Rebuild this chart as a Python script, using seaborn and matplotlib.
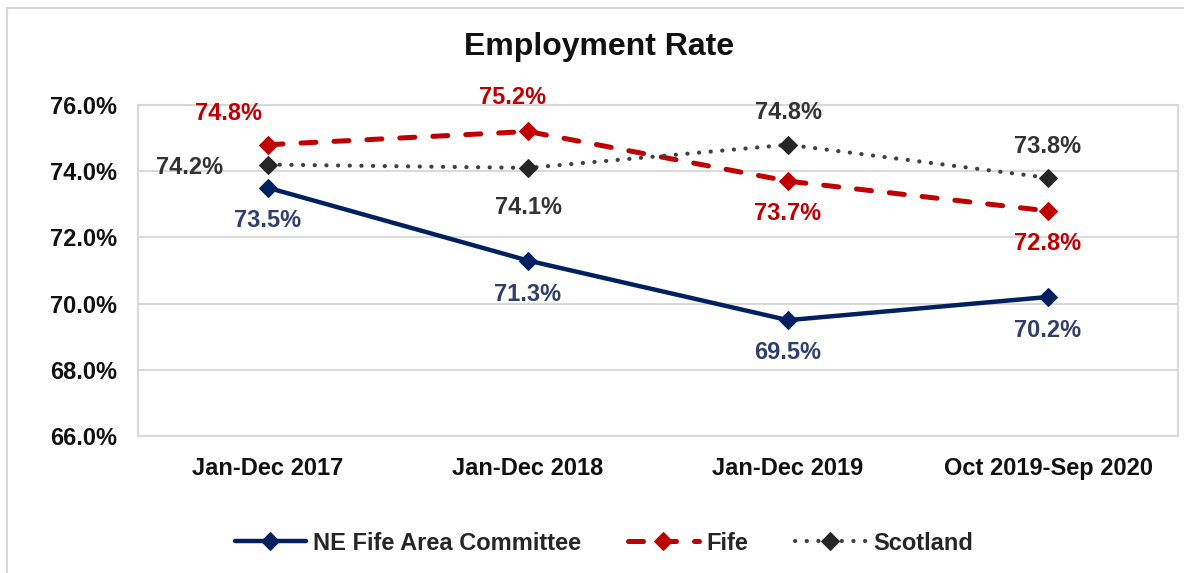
import matplotlib
matplotlib.use("Agg")
import matplotlib.pyplot as plt
import seaborn as sns
import pandas as pd
from matplotlib.patches import Rectangle

categories = ["Jan-Dec 2017", "Jan-Dec 2018", "Jan-Dec 2019", "Oct 2019-Sep 2020"]
ne_fife = [73.5, 71.3, 69.5, 70.2]
fife = [74.8, 75.2, 73.7, 72.8]
scotland = [74.2, 74.1, 74.8, 73.8]
y_ticks = [66, 68, 70, 72, 74, 76]

sns.set_theme(style="white")
plt.rcParams["font.family"] = ["Liberation Sans", "DejaVu Sans"]
plt.rcParams["font.weight"] = "bold"

W, H = 1184, 573
fig = plt.figure(figsize=(W / 100, H / 100), dpi=100)
ax = fig.add_axes([138 / W, 1 - 436 / H, (1178 - 138) / W, (436 - 105) / H])

df = pd.DataFrame({
    "period": categories * 3,
    "x": list(range(4)) * 3,
    "rate": ne_fife + fife + scotland,
    "series": ["NE Fife Area Committee"] * 4 + ["Fife"] * 4 + ["Scotland"] * 4,
})

navy = "#002060"
red = "#C00000"
grey = "#404040"
styles = {
    "NE Fife Area Committee": dict(color=navy, lw=3.2, mfc=navy, mec=navy, dash=None),
    "Fife": dict(color=red, lw=3.6, mfc=red, mec=red, dash=(3.0, 3.6)),
    "Scotland": dict(color=grey, lw=3.0, mfc="#262626", mec="#262626", dash=(0.05, 2.75)),
}

handles = []
for name in ["NE Fife Area Committee", "Fife", "Scotland"]:
    sub = df[df.series == name]
    st = styles[name]
    sns.lineplot(data=sub, x="x", y="rate", ax=ax, color=st["color"], lw=st["lw"],
                 marker="D", markersize=9, markerfacecolor=st["mfc"],
                 markeredgecolor=st["mec"], label=name, legend=False, sort=False)
    line = ax.lines[-1]
    if st["dash"] is not None:
        line.set_dashes(st["dash"])
    line.set_dash_capstyle("round")
    line.set_solid_capstyle("round")
    handles.append(line)

# data labels: offsets in pixels
label_offsets = {
    "NE Fife Area Committee": [(0, -33), (0, -34), (0, -32), (0, -34)],
    "Fife": [(-40, 31), (-15, 34), (0, -32), (0, -33)],
    "Scotland": [(-78, -3), (0, -40), (0, 32), (0, 31)],
}
label_colors = {"NE Fife Area Committee": "#2F3F6B", "Fife": red, "Scotland": "#333333"}
for name, vals in [("NE Fife Area Committee", ne_fife), ("Fife", fife), ("Scotland", scotland)]:
    for i, v in enumerate(vals):
        dx, dy = label_offsets[name][i]
        ax.annotate(f"{v:.1f}%", (i, v), xytext=(dx, dy), textcoords="offset pixels",
                    ha="center", va="center", fontsize=17, fontweight="bold",
                    color=label_colors[name])

ax.set_xlim(-0.5, 3.5)
ax.set_ylim(66, 76)
ax.set_yticks(y_ticks)
ax.set_yticklabels([f"{t:.1f}%" for t in y_ticks], fontsize=17, fontweight="bold", color="#111111")
ax.set_xticks(range(4))
ax.set_xticklabels(categories, fontsize=17, fontweight="bold", color="#111111")
ax.tick_params(axis="y", length=0, pad=15)
ax.tick_params(axis="x", length=0, pad=15)
ax.set_xlabel("")
ax.set_ylabel("")
ax.grid(axis="y", color="#d9d9d9", lw=1.5)
ax.grid(axis="x", visible=False)
for s in ax.spines.values():
    s.set_visible(True)
    s.set_color("#d9d9d9")
    s.set_linewidth(1.5)

fig.suptitle("Employment Rate", x=0.506, y=1 - 47 / H, va="center",
             fontsize=23, fontweight="bold", color="#111111")

fig.legend(handles=handles, labels=["NE Fife Area Committee", "Fife", "Scotland"],
           loc="center", bbox_to_anchor=(0.51, 1 - 543 / H), ncol=3, frameon=False,
           handlelength=3.0, columnspacing=2.0, handletextpad=0.3,
           prop={"weight": "bold", "size": 17})

fig.patches.append(Rectangle((7 / W, -0.1), 1.2, 1 - 8 / H + 0.1, transform=fig.transFigure,
                             fill=False, edgecolor="#d9d9d9", lw=1.5))

fig.savefig("out.png", dpi=100)
